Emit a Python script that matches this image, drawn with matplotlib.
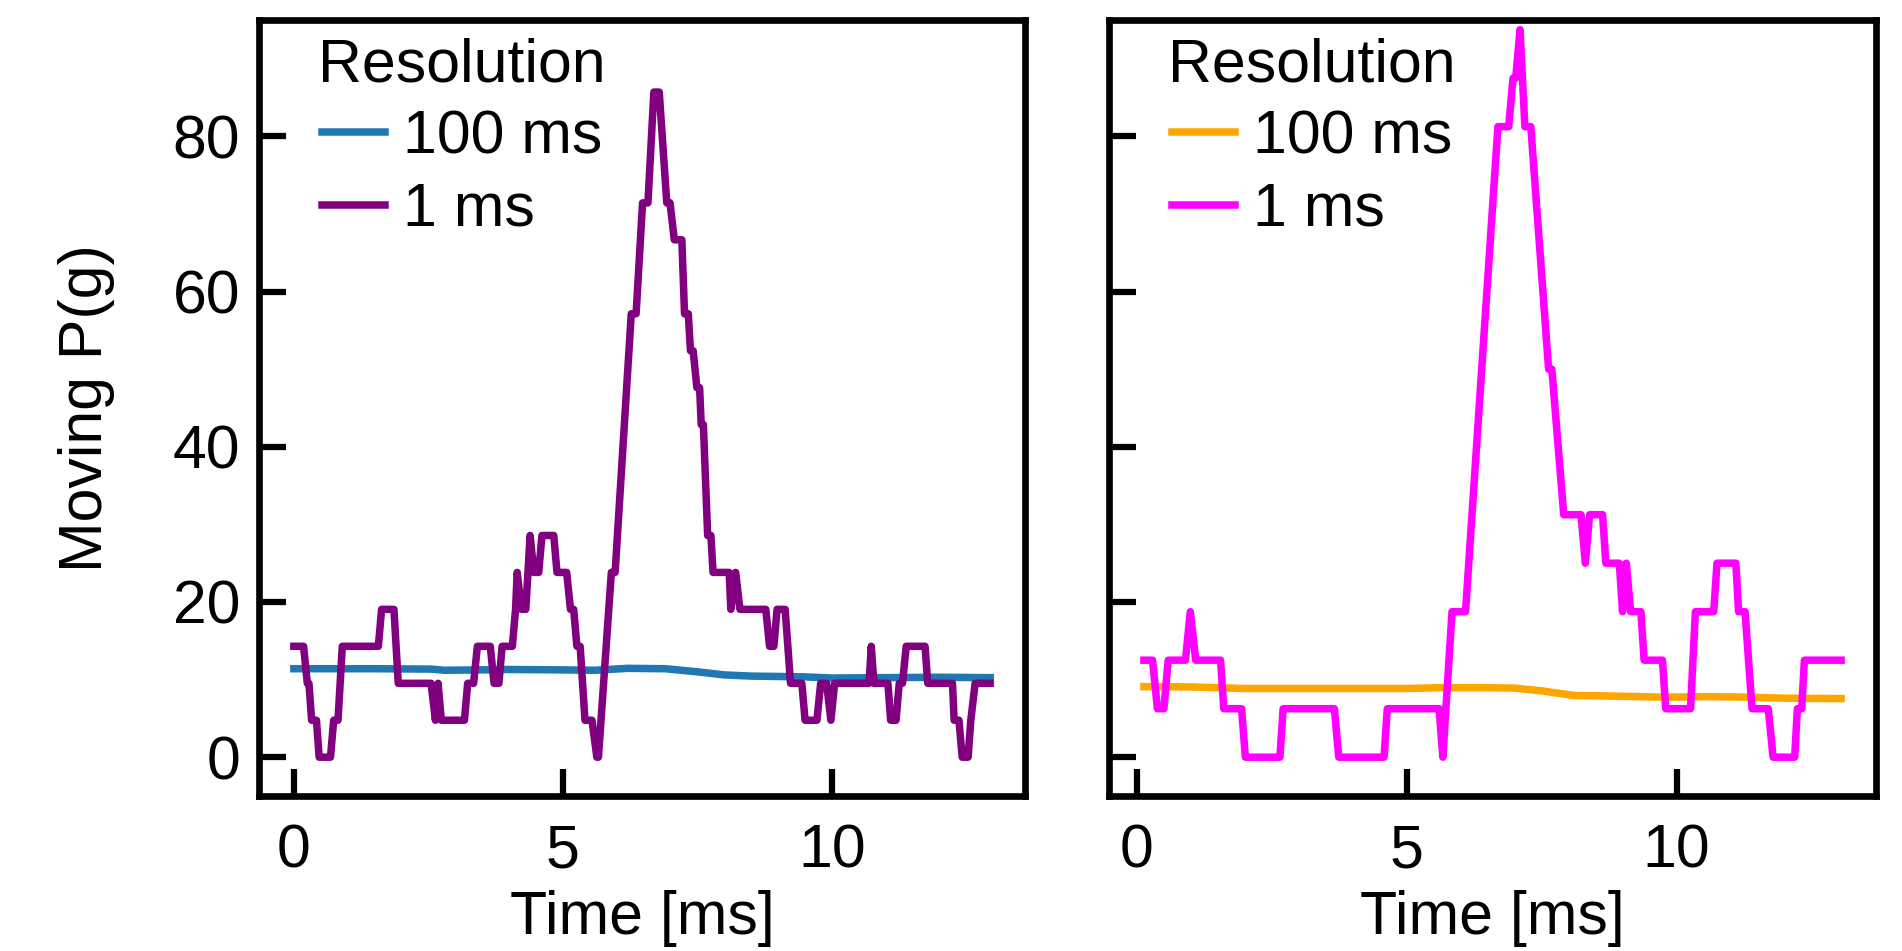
import matplotlib
matplotlib.use("Agg")
import matplotlib.pyplot as plt

# ---------------- data ----------------
# Left panel, 1 ms resolution (vertices of the moving P(g) trace)
t_left_1ms = [0.00, 0.18, 0.25, 0.28, 0.33, 0.42, 0.47, 0.68, 0.74, 0.82, 0.90, 1.57, 1.63, 1.86,
              1.94, 2.55, 2.63, 2.68, 2.74, 3.17, 3.23, 3.34, 3.41, 3.65, 3.72, 3.81, 3.87, 4.06,
              4.12, 4.15, 4.23, 4.31, 4.39, 4.46, 4.55, 4.61, 4.83, 4.89, 5.07, 5.14, 5.20, 5.26,
              5.32, 5.41, 5.54, 5.63, 5.66, 5.90, 5.97, 6.27, 6.36, 6.48, 6.58, 6.69, 6.79, 6.93,
              6.99, 7.07, 7.21, 7.26, 7.33, 7.37, 7.42, 7.49, 7.54, 7.57, 7.61, 7.69, 7.75, 7.79,
              8.09, 8.12, 8.21, 8.29, 8.77, 8.84, 8.92, 8.98, 9.13, 9.23, 9.44, 9.50, 9.72, 9.79,
              9.90, 9.98, 10.05, 10.69, 10.73, 10.78, 11.04, 11.09, 11.19, 11.25, 11.31, 11.38,
              11.73, 11.78, 12.24, 12.27, 12.36, 12.42, 12.53, 12.58, 12.66, 12.94]
p_left_1ms = [14.29, 14.29, 9.52, 9.52, 4.76, 4.76, 0.00, 0.00, 4.76, 4.76, 14.29, 14.29, 19.05, 19.05,
              9.52, 9.52, 4.76, 9.52, 4.76, 4.76, 9.52, 9.52, 14.29, 14.29, 9.52, 9.52, 14.29, 14.29,
              19.05, 23.81, 19.05, 19.05, 28.57, 23.81, 23.81, 28.57, 28.57, 23.81, 23.81, 19.05, 19.05, 14.29,
              14.29, 4.76, 4.76, 0.00, 0.00, 23.81, 23.81, 57.14, 57.14, 71.43, 71.43, 85.71, 85.71, 71.43,
              71.43, 66.67, 66.67, 57.14, 57.14, 52.38, 52.38, 47.62, 47.62, 42.86, 42.86, 28.57, 28.57, 23.81,
              23.81, 19.05, 23.81, 19.05, 19.05, 14.29, 14.29, 19.05, 19.05, 9.52, 9.52, 4.76, 4.76, 9.52,
              9.52, 4.76, 9.52, 9.52, 14.29, 9.52, 9.52, 4.76, 4.76, 9.52, 9.52, 14.29,
              14.29, 9.52, 9.52, 4.76, 4.76, 0.00, 0.00, 4.76, 9.52, 9.52]

# Left panel, 100 ms resolution
t_left_100ms = [0.0, 1.5, 2.55, 2.8, 4.0, 5.0, 5.6, 6.2, 6.9, 7.5, 8.0, 8.5, 9.5, 10.0, 11.0, 12.0, 12.94]
p_left_100ms = [11.4, 11.4, 11.35, 11.2, 11.3, 11.25, 11.2, 11.45, 11.4, 11.0, 10.6, 10.45, 10.35, 10.2, 10.25, 10.3, 10.25]

# Right panel, 1 ms resolution
t_right_1ms = [0.13, 0.29, 0.38, 0.50, 0.58, 0.90, 0.99, 1.09, 1.55, 1.61, 1.94, 2.01, 2.65, 2.71,
               3.66, 3.74, 4.58, 4.64, 5.60, 5.67, 5.84, 6.09, 6.69, 6.89, 6.97, 7.02, 7.10, 7.19,
               7.30, 7.63, 7.69, 7.91, 8.23, 8.31, 8.39, 8.63, 8.69, 8.94, 9.00, 9.07, 9.15, 9.34,
               9.40, 9.74, 9.80, 10.26, 10.35, 10.69, 10.75, 11.10, 11.15, 11.27, 11.40, 11.70,
               11.79, 12.19, 12.24, 12.32, 12.37, 13.05]
p_right_1ms = [12.5, 12.5, 6.25, 6.25, 12.5, 12.5, 18.75, 12.5, 12.5, 6.25, 6.25, 0.0, 0.0, 6.25,
               6.25, 0.0, 0.0, 6.25, 6.25, 0.0, 18.75, 18.75, 81.25, 81.25, 87.5, 87.5, 93.75, 81.25,
               81.25, 50.0, 50.0, 31.25, 31.25, 25.0, 31.25, 31.25, 25.0, 25.0, 18.75, 25.0, 18.75, 18.75,
               12.5, 12.5, 6.25, 6.25, 18.75, 18.75, 25.0, 25.0, 18.75, 18.75, 6.25, 6.25,
               0.0, 0.0, 6.25, 6.25, 12.5, 12.5]

# Right panel, 100 ms resolution
t_right_100ms = [0.13, 1.0, 1.5, 2.0, 3.0, 4.0, 5.0, 5.6, 6.5, 7.0, 7.5, 8.1, 8.6, 9.0, 9.6, 10.0, 10.6, 11.2, 12.0, 13.05]
p_right_100ms = [9.1, 9.05, 8.95, 8.85, 8.85, 8.85, 8.85, 8.95, 8.95, 8.9, 8.55, 7.95, 7.9, 7.85, 7.75, 7.75, 7.8, 7.75, 7.6, 7.55]

legend_title = "Resolution"
labels = ["100 ms", "1 ms"]
x_ticks = [0, 5, 10]
y_ticks = [0, 20, 40, 60, 80]

# ---------------- style ----------------
FS = 14.6
plt.rcParams['font.family'] = ['Liberation Sans', 'DejaVu Sans']
plt.rcParams['font.size'] = FS

fig = plt.figure(figsize=(6.34, 3.17), dpi=300)
ax1 = fig.add_axes([0.1362, 0.163, 0.4027, 0.816])
ax2 = fig.add_axes([0.5831, 0.163, 0.4032, 0.816])

lw = 1.8
ax1.plot(t_left_100ms, p_left_100ms, color='#1f77b4', lw=lw, label=labels[0])
ax1.plot(t_left_1ms, p_left_1ms, color='purple', lw=lw, label=labels[1])
ax2.plot(t_right_100ms, p_right_100ms, color='orange', lw=lw, label=labels[0])
ax2.plot(t_right_1ms, p_right_1ms, color='magenta', lw=lw, label=labels[1])

for ax in (ax1, ax2):
    ax.set_ylim(-5, 95)
    ax.set_xticks(x_ticks)
    ax.set_yticks(y_ticks)
    ax.tick_params(direction='in', length=6.5, width=1.5, labelsize=FS)
    ax.tick_params(axis='x', pad=6.7)
    ax.tick_params(axis='y', pad=4.5)
    for s in ax.spines.values():
        s.set_linewidth(1.6)
    ax.set_xlabel("Time [ms]", fontsize=FS, labelpad=2.3)
    ax.legend(title=legend_title, loc='upper left', frameon=False,
              bbox_to_anchor=(0.0056, 1.048), handlelength=1.035, handletextpad=0.3,
              borderaxespad=0.5, labelspacing=0.25, title_fontsize=FS, fontsize=FS)

ax2.set_yticklabels([])
ax1.set_ylabel("Moving P(g)", fontsize=FS, labelpad=13.8)

fig.savefig("out.png", dpi=300)
